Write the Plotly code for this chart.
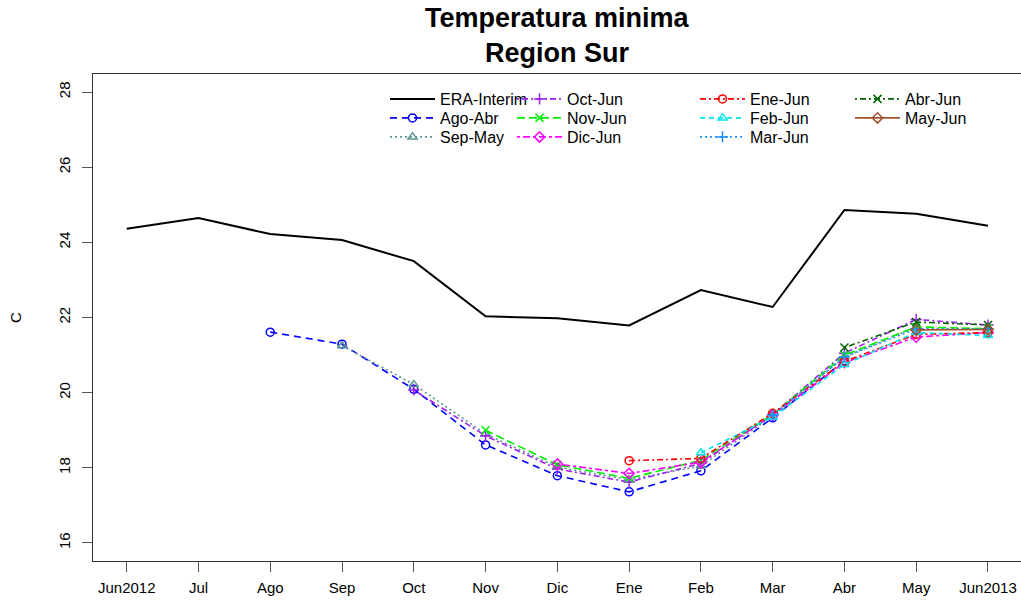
import plotly.graph_objects as go

# Month axis (June 2012 .. June 2013)
month_labels = ["Jun2012", "Jul", "Ago", "Sep", "Oct", "Nov", "Dic",
                "Ene", "Feb", "Mar", "Abr", "May", "Jun2013"]
month_idx = list(range(len(month_labels)))

# Reanalysis reference
era_interim = [24.36, 24.65, 24.22, 24.06, 23.50, 22.03, 21.98,
               21.79, 22.73, 22.28, 24.86, 24.76, 24.44]

# Forecasts by initialisation month (None = outside forecast window)
ago_abr = [None, None, 21.61, 21.29, 20.09, 18.61, 17.79, 17.36, 17.92, 19.33, 20.85, None, None]
sep_may = [None, None, None, 21.25, 20.22, 18.90, 18.02, 17.68, 18.05, 19.38, 20.95, 21.75, None]
oct_jun = [None, None, None, None, 20.07, 18.85, 17.97, 17.62, 18.12, 19.42, 21.05, 21.95, 21.80]
nov_jun = [None, None, None, None, None, 19.00, 18.08, 17.72, 18.20, 19.42, 21.00, 21.75, 21.70]
dic_jun = [None, None, None, None, None, None, 18.10, 17.85, 18.15, 19.40, 20.80, 21.48, 21.60]
ene_jun = [None, None, None, None, None, None, None, 18.19, 18.25, 19.45, 20.83, 21.55, 21.60]
feb_jun = [None, None, None, None, None, None, None, None, 18.40, 19.35, 20.75, 21.60, 21.52]
mar_jun = [None, None, None, None, None, None, None, None, None, 19.40, 20.95, 21.70, 21.70]
abr_jun = [None, None, None, None, None, None, None, None, None, None, 21.20, 21.88, 21.80]
may_jun = [None, None, None, None, None, None, None, None, None, None, None, 21.67, 21.68]

y_ticks = [16, 18, 20, 22, 24, 26, 28]

FONT = "Liberation Sans, Arial, sans-serif"

# name, values, colour, dash, marker symbol, legend column, legend row
series = [
    ("ERA-Interim", era_interim, "#000000", "solid", None, 0, 0),
    ("Ago-Abr", ago_abr, "#0000FF", "7px,5px", "circle-open", 0, 1),
    ("Sep-May", sep_may, "#5A9494", "2px,3px", "triangle-up-open", 0, 2),
    ("Oct-Jun", oct_jun, "#A020F0", "2px,3px,6px,3px", "cross-thin-open", 1, 0),
    ("Nov-Jun", nov_jun, "#00EE00", "8px,4px", "x-thin-open", 1, 1),
    ("Dic-Jun", dic_jun, "#FF00FF", "3px,3px,7px,3px", "diamond-open", 1, 2),
    ("Ene-Jun", ene_jun, "#FF0000", "6px,3px,2px,3px", "circle-open", 2, 0),
    ("Feb-Jun", feb_jun, "#00E5EE", "5px,4px", "triangle-up-open", 2, 1),
    ("Mar-Jun", mar_jun, "#1E90FF", "2px,3px", "cross-thin-open", 2, 2),
    ("Abr-Jun", abr_jun, "#006400", "2px,3px,6px,3px", "x-thin-open", 3, 0),
    ("May-Jun", may_jun, "#A0522D", "solid", "diamond-open", 3, 1),
]

L, R, T, B = 93, 0, 74, 39
W, H = 1021, 600
pw, ph = W - L - R, H - T - B


def px_x(p):
    return (p - L) / pw


def px_y(p):
    return (H - B - p) / ph


# legend block geometry: column origins and row centres (pixels)
col_x = [385, 512, 695, 850]
row_y = [99, 118, 137]

fig = go.Figure()
legend_layouts = {}
for i, (name, vals, color, dash, symbol, col, row) in enumerate(series):
    leg = "legend" if i == 0 else f"legend{i + 1}"
    if symbol is None:
        fig.add_trace(go.Scatter(
            x=month_idx, y=vals, name=name, mode="lines", showlegend=True,
            line=dict(color=color, width=2, dash=dash), legend=leg))
    else:
        fig.add_trace(go.Scatter(
            x=month_idx, y=vals, name=name, mode="lines+markers",
            showlegend=True,
            line=dict(color=color, width=1.6, dash=dash),
            marker=dict(symbol=symbol, size=8, color=color,
                        line=dict(color=color, width=1.5)),
            legend=leg))
    legend_layouts[leg] = dict(
        x=px_x(col_x[col]), y=px_y(row_y[row]),
        xanchor="left", yanchor="middle",
        font=dict(family=FONT, size=16, color="#000000"),
        bgcolor="rgba(0,0,0,0)", borderwidth=0, itemwidth=45,
        orientation="v", tracegroupgap=0, visible=True,
        itemclick=False, itemdoubleclick=False,
    )

fig.update_layout(
    width=W, height=H,
    showlegend=True,
    margin=dict(l=L, r=R, t=T, b=B, pad=0),
    paper_bgcolor="white", plot_bgcolor="white",
    font=dict(family=FONT, color="#000000"),
    xaxis=dict(
        range=[-0.47, 12.46], tickvals=month_idx, ticktext=month_labels,
        showgrid=False, zeroline=False,
        showline=True, linecolor="#333333", linewidth=1, mirror=True,
        ticks="outside", ticklen=10, tickcolor="#555555", tickwidth=1,
        tickfont=dict(family=FONT, size=15, color="#000000"),
        ticklabelstandoff=3,
    ),
    yaxis=dict(
        range=[15.52, 28.48], tickvals=y_ticks,
        showgrid=False, zeroline=False,
        showline=True, linecolor="#333333", linewidth=1, mirror=True,
        ticks="outside", ticklen=10, tickcolor="#555555", tickwidth=1,
        tickangle=-90, ticklabelstandoff=6,
        tickfont=dict(family=FONT, size=15, color="#000000"),
        title=dict(text="C", font=dict(family=FONT, size=15, color="#000000"),
                   standoff=30),
    ),
    annotations=[
        dict(text="<b>Temperatura minima</b>", x=0.5, y=px_y(18),
             xref="paper", yref="paper", xanchor="center", yanchor="middle",
             showarrow=False, font=dict(family=FONT, size=27, color="#000000")),
        dict(text="<b>Region Sur</b>", x=0.5, y=px_y(53),
             xref="paper", yref="paper", xanchor="center", yanchor="middle",
             showarrow=False, font=dict(family=FONT, size=27, color="#000000")),
    ],
    **legend_layouts,
)

fig.write_html("out.html")
